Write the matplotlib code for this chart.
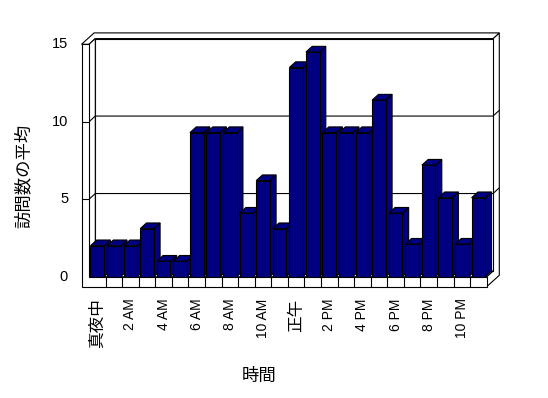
import matplotlib
matplotlib.use("Agg")
import matplotlib.pyplot as plt
from matplotlib.patches import Polygon, Rectangle

# ---- data ----
hours = ["真夜中", "1 AM", "2 AM", "3 AM", "4 AM", "5 AM", "6 AM", "7 AM", "8 AM", "9 AM",
         "10 AM", "11 AM", "正午", "1 PM", "2 PM", "3 PM", "4 PM", "5 PM", "6 PM", "7 PM",
         "8 PM", "9 PM", "10 PM", "11 PM"]
avg_visits = [2.0, 2.0, 2.0, 3.1, 1.0, 1.0, 9.3, 9.3, 9.3, 4.1, 6.2, 3.1,
              13.5, 14.5, 9.3, 9.3, 9.3, 11.4, 4.1, 2.1, 7.2, 5.1, 2.1, 5.1]
y_ticks = [0, 5, 10, 15]
x_title = "時間"
y_title = "訪問数の平均"

BAR = "#000080"
LW = 0.8
W, H = 548, 398
fig = plt.figure(figsize=(W / 100, H / 100), dpi=100)
fig.patch.set_facecolor("white")

# front plane in pixels (image coords, origin top-left)
fx0, fx1 = 89.0, 486.7
fy_top, fy_bot = 44.3, 276.7
ax = fig.add_axes([fx0 / W, 1 - fy_bot / H, (fx1 - fx0) / W, (fy_bot - fy_top) / H])
n = len(hours)
ymax = 15
ax.set_xlim(0, n)
ax.set_ylim(0, ymax)
ax.axis("off")

pxx = (fx1 - fx0) / n
pxy = (fy_bot - fy_top) / ymax
ddx = 6.3 / pxx           # depth offset in data units
ddy = 5.7 / pxy
wl = 7.5 / pxx            # left wall thickness
fl = 10.0 / pxy           # floor thickness


def poly(pts, fc="white", z=1, lw=LW):
    p = Polygon(pts, closed=True, facecolor=fc, edgecolor="black", lw=lw,
                clip_on=False, zorder=z, joinstyle="miter")
    ax.add_patch(p)


def line(xs, ys, z=2):
    ax.plot(xs, ys, color="black", lw=LW, clip_on=False, zorder=z,
            solid_capstyle="butt")


# right side of floor + back wall slab
poly([(n, -fl), (n, 0), (n + ddx, ddy), (n + ddx, ymax + ddy),
      (n + 2 * ddx, ymax + 2 * ddy), (n + 2 * ddx, -fl + 2 * ddy)], z=1)
# back wall top (thickness)
poly([(-wl, ymax), (0, ymax), (ddx, ymax + ddy), (n + ddx, ymax + ddy),
      (n + 2 * ddx, ymax + 2 * ddy), (-wl + 2 * ddx, ymax + 2 * ddy)], z=1)
# back wall front face
poly([(ddx, ddy), (n + ddx, ddy), (n + ddx, ymax + ddy), (ddx, ymax + ddy)], z=1.5)
# left wall inner face
poly([(0, 0), (0, ymax), (ddx, ymax + ddy), (ddx, ddy)], z=1.5)
# floor top
poly([(0, 0), (n, 0), (n + ddx, ddy), (ddx, ddy)], z=1.5)

# gridlines
for v in y_ticks[1:-1]:
    line([0, ddx, n + ddx, n + 2 * ddx], [v, v + ddy, v + ddy, v + 2 * ddy], z=2)

# bars
bw = 0.82
for i, v in enumerate(avg_visits):
    x0 = i + (1 - bw) / 2
    x1 = x0 + bw
    z = 3 + i * 0.01
    poly([(x1, 0), (x1, v), (x1 + ddx, v + ddy), (x1 + ddx, ddy)], fc=BAR, z=z)
    poly([(x0, v), (x1, v), (x1 + ddx, v + ddy), (x0 + ddx, v + ddy)], fc=BAR, z=z)
    ax.add_patch(Rectangle((x0, 0), bw, v, facecolor=BAR, edgecolor="black",
                           lw=LW, clip_on=False, zorder=z + 0.005))

# floor front face + left wall front face (L shape)
poly([(-wl, -fl), (n, -fl), (n, 0), (0, 0), (0, ymax), (-wl, ymax)], z=5)
for i in range(1, n):
    line([i, i], [-fl, 0], z=5.1)
# ticks across the left wall front face
for v in y_ticks[1:-1]:
    line([-wl, 0], [v, v], z=5.1)

# tick labels
lat = ["Liberation Sans", "Noto Sans CJK JP"]
cjk = ["Noto Sans CJK JP", "Liberation Sans"]
for v in y_ticks:
    ax.text(-wl - 13.4 / pxx, v, str(v), ha="right", va="center",
            fontsize=10.5, family=lat, clip_on=False)
for i in range(0, n, 2):
    lab = hours[i]
    is_cjk = not any(c.isascii() for c in lab)
    ax.text(i + 0.5, -(298.5 - fy_bot) / pxy, lab, rotation=90, ha="center",
            va="top", fontsize=12 if is_cjk else 10,
            family=cjk if is_cjk else lat, clip_on=False)

fig.text(259 / W, 1 - 376 / H, x_title, ha="center", va="center",
         fontsize=12.5, family=cjk)
fig.text(24 / W, 1 - 176 / H, y_title, ha="center", va="center",
         rotation=90, fontsize=12.5, family=cjk)

fig.savefig("out.png", dpi=100, facecolor="white")
